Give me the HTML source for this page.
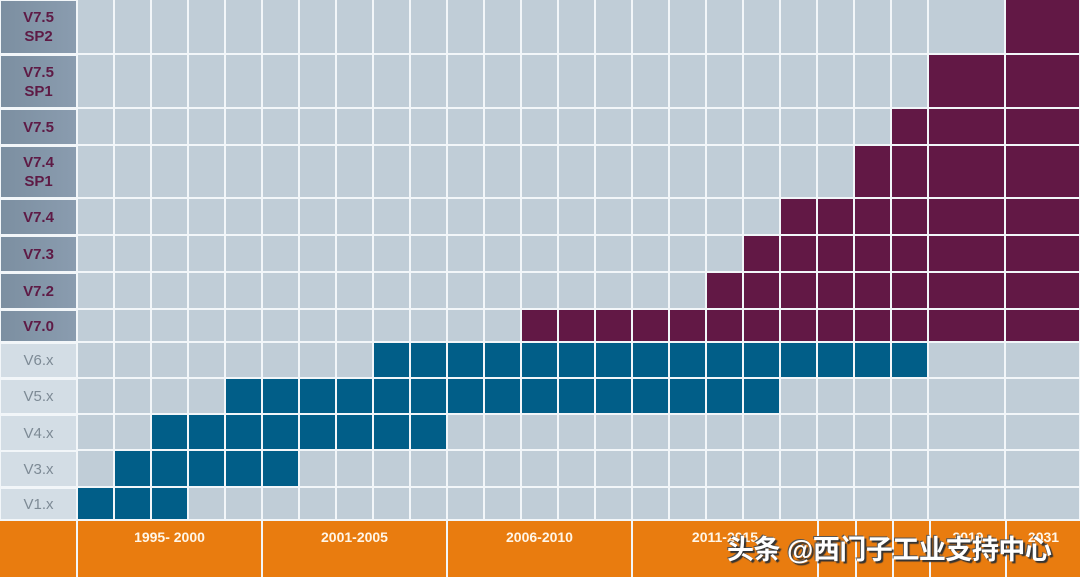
<!DOCTYPE html>
<html><head><meta charset="utf-8">
<style>
html,body{margin:0;padding:0;}
body{width:1080px;height:577px;position:relative;overflow:hidden;background:#f2f6f9;font-family:"Liberation Sans",Arial,sans-serif;}
.c{position:absolute;}
.lab{position:absolute;left:1px;width:75px;display:flex;align-items:center;justify-content:center;text-align:center;line-height:19px;}
.dk{background:linear-gradient(90deg,#7c8fa1,#8a9caf);color:#5e1a45;font-weight:bold;font-size:15px;}
.lt{background:#d3dde5;color:#7d8a95;font-size:15px;}
.ft{position:absolute;top:521px;height:56px;background:#e97c0f;color:#fff6e8;font-weight:bold;font-size:14px;text-align:center;line-height:32px;}
.wm{position:absolute;left:727px;top:528px;font-family:"Liberation Sans","Noto Sans CJK SC",sans-serif;font-size:27px;font-weight:bold;color:#fff;text-shadow:2px 2px 1px #333,-1px -1px 0 #555;white-space:nowrap;letter-spacing:-0.5px;}
</style></head><body>
<div id="g"></div>
<div class="lab dk" style="top:1px;height:52px">V7.5<br>SP2</div>
<div class="lab dk" style="top:56px;height:51px">V7.5<br>SP1</div>
<div class="lab dk" style="top:110px;height:34px">V7.5</div>
<div class="lab dk" style="top:147px;height:50px">V7.4<br>SP1</div>
<div class="lab dk" style="top:200px;height:34px">V7.4</div>
<div class="lab dk" style="top:237px;height:34px">V7.3</div>
<div class="lab dk" style="top:274px;height:34px">V7.2</div>
<div class="lab dk" style="top:311px;height:30px">V7.0</div>
<div class="lab lt" style="top:344px;height:33px">V6.x</div>
<div class="lab lt" style="top:380px;height:33px">V5.x</div>
<div class="lab lt" style="top:416px;height:34px">V4.x</div>
<div class="lab lt" style="top:452px;height:34px">V3.x</div>
<div class="lab lt" style="top:489px;height:30px">V1.x</div>
<div class="ft" style="left:0;width:76px"></div>
<div class="ft" style="left:78px;width:183px">1995- 2000</div>
<div class="ft" style="left:263px;width:183px">2001-2005</div>
<div class="ft" style="left:448px;width:183px">2006-2010</div>
<div class="ft" style="left:633px;width:184px">2011-2015</div>
<div class="ft" style="left:819px;width:36px"></div>
<div class="ft" style="left:857px;width:35px"></div>
<div class="ft" style="left:894px;width:35px"></div>
<div class="ft" style="left:931px;width:74px">2019</div>
<div class="ft" style="left:1007px;width:73px">2031</div>
<div class="wm">头条 @西门子工业支持中心</div>
<script>
var xs=[];for(var i=0;i<=23;i++)xs.push(77+37*i);xs.push(1005);xs.push(1080);
var ys=[0,54,108,145,198,235,272,309,342,378,414,450,487,520];
var rows=[[24,24,'p'],[23,24,'p'],[22,24,'p'],[21,24,'p'],[19,24,'p'],[18,24,'p'],[17,24,'p'],[12,24,'p'],[8,22,'b'],[4,18,'b'],[2,9,'b'],[1,5,'b'],[0,2,'b']];
var h='';
for(var r=0;r<13;r++){for(var c=0;c<25;c++){
var col='#c0cdd7';var f=rows[r];if(c>=f[0]&&c<=f[1])col=f[2]=='p'?'#621845':'#015e88';
var x=xs[c]+1,y=ys[r]+1,w=xs[c+1]-xs[c]-2,hh=ys[r+1]-ys[r]-2;if(r==0){y=0;hh=ys[1]-1;}
h+='<div class="c" style="left:'+x+'px;top:'+y+'px;width:'+w+'px;height:'+hh+'px;background:'+col+'"></div>';}}
document.getElementById('g').innerHTML=h;
</script>
</body></html>
